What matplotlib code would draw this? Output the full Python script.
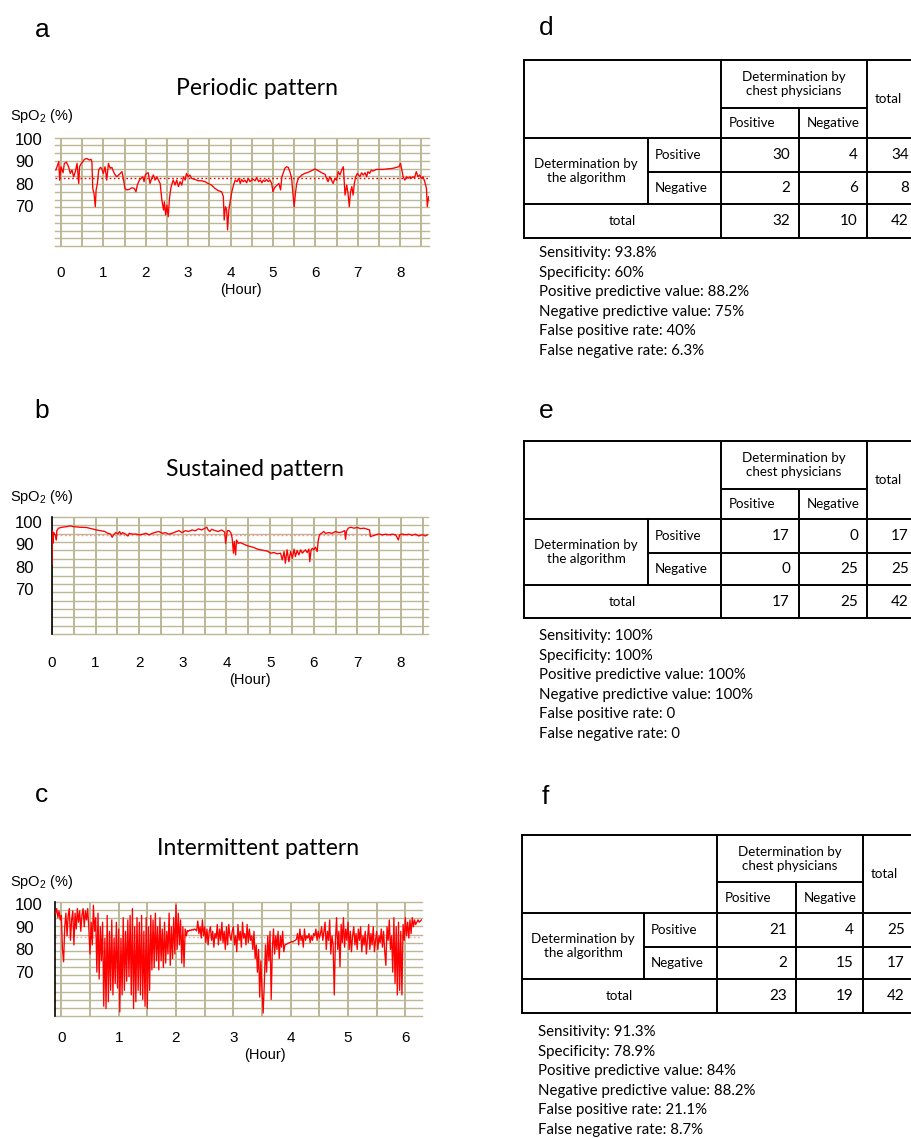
import numpy as np
import matplotlib.pyplot as plt

plt.rcParams['font.family'] = ['Liberation Sans', 'DejaVu Sans']
plt.rcParams['mathtext.fontset'] = 'custom'
plt.rcParams['mathtext.rm'] = 'Liberation Sans'

W, H = 912, 1138
BODY_FONT = ['Lato', 'DejaVu Sans']
GRID = '#bcb896'

# ---- panel a: periodic pattern (hour, SpO2 %) ----
trace_a = [
    (-0.12, 86.1), (-0.05, 89.9), (-0.03, 81.6), (0.00, 87.6), (0.05, 84.9), (0.08, 89.1),
    (0.13, 89.6), (0.18, 87.6), (0.22, 84.6), (0.26, 86.1), (0.30, 83.1), (0.34, 85.4),
    (0.38, 89.1), (0.42, 80.1), (0.44, 87.6), (0.48, 89.1), (0.52, 89.9), (0.55, 90.9),
    (0.61, 91.3), (0.67, 90.6), (0.71, 90.9), (0.73, 89.9), (0.75, 77.9), (0.78, 75.7),
    (0.81, 69.7), (0.83, 77.2), (0.86, 80.1), (0.89, 86.1), (0.93, 87.3), (0.96, 86.9),
    (1.00, 84.6), (1.04, 87.6), (1.08, 81.6), (1.12, 89.1), (1.16, 86.9), (1.20, 87.3),
    (1.24, 85.4), (1.28, 83.9), (1.32, 83.1), (1.36, 83.9), (1.40, 84.6), (1.44, 85.4),
    (1.47, 82.4), (1.51, 77.9), (1.55, 77.2), (1.62, 77.5), (1.67, 78.2), (1.73, 77.9),
    (1.77, 76.4), (1.80, 79.4), (1.85, 81.6), (1.89, 82.4), (1.93, 83.1), (1.96, 80.9),
    (1.99, 83.9), (2.02, 84.6), (2.06, 84.9), (2.10, 80.1), (2.14, 82.4), (2.18, 83.9),
    (2.22, 81.6), (2.26, 83.1), (2.30, 81.6), (2.34, 80.1), (2.38, 72.7), (2.42, 68.2),
    (2.44, 71.9), (2.47, 66.0), (2.50, 70.4), (2.53, 65.2), (2.56, 73.4), (2.59, 77.9),
    (2.62, 80.1), (2.65, 81.6), (2.69, 79.4), (2.73, 81.6), (2.77, 78.7), (2.81, 80.9),
    (2.85, 79.4), (2.89, 83.1), (2.93, 81.6), (2.96, 84.6), (3.00, 83.1), (3.04, 83.9),
    (3.08, 82.4), (3.16, 81.9), (3.24, 81.3), (3.32, 81.3), (3.40, 80.9), (3.47, 80.1),
    (3.55, 79.4), (3.63, 77.9), (3.71, 76.9), (3.79, 76.4), (3.83, 74.2), (3.85, 63.7),
    (3.88, 69.7), (3.91, 68.2), (3.93, 59.3), (3.96, 68.2), (3.99, 71.9), (4.03, 76.4),
    (4.07, 79.4), (4.11, 81.6), (4.15, 80.9), (4.19, 82.4), (4.23, 80.1), (4.26, 81.9),
    (4.30, 80.9), (4.34, 81.6), (4.38, 80.4), (4.42, 82.4), (4.46, 80.9), (4.50, 81.6),
    (4.54, 81.9), (4.58, 81.3), (4.62, 82.8), (4.66, 80.9), (4.70, 81.6), (4.74, 80.4),
    (4.77, 81.6), (4.81, 81.0), (4.85, 81.9), (4.89, 80.9), (4.93, 81.6), (4.97, 80.1),
    (5.00, 76.4), (5.03, 77.9), (5.06, 78.7), (5.10, 79.4), (5.14, 80.1), (5.18, 77.2),
    (5.21, 83.1), (5.24, 84.6), (5.28, 86.9), (5.32, 87.6), (5.36, 87.3), (5.40, 85.4),
    (5.44, 82.4), (5.46, 77.9), (5.50, 69.7), (5.53, 75.7), (5.56, 80.1), (5.60, 82.4),
    (5.64, 83.1), (5.68, 83.9), (5.75, 84.6), (5.83, 85.1), (5.91, 85.8), (5.99, 86.6),
    (6.07, 85.8), (6.15, 84.9), (6.23, 84.2), (6.26, 82.4), (6.30, 80.9), (6.34, 83.1),
    (6.38, 81.6), (6.42, 80.1), (6.46, 82.4), (6.50, 81.6), (6.54, 85.4), (6.58, 83.9),
    (6.62, 86.1), (6.66, 87.6), (6.68, 81.6), (6.70, 74.9), (6.74, 79.4), (6.77, 75.7),
    (6.80, 69.7), (6.83, 76.4), (6.86, 78.7), (6.89, 74.9), (6.92, 80.1), (6.95, 83.1),
    (6.99, 84.6), (7.05, 83.1), (7.09, 84.9), (7.13, 83.9), (7.17, 84.9), (7.21, 83.1),
    (7.24, 85.4), (7.28, 84.6), (7.32, 86.1), (7.36, 85.7), (7.44, 86.4), (7.52, 86.4),
    (7.60, 86.4), (7.68, 86.6), (7.75, 86.7), (7.83, 86.9), (7.91, 87.3), (7.97, 87.6),
    (8.01, 89.1), (8.04, 86.1), (8.07, 83.1), (8.11, 81.6), (8.15, 83.1), (8.19, 82.4),
    (8.23, 83.1), (8.26, 82.4), (8.30, 83.1), (8.34, 82.7), (8.38, 85.4), (8.42, 83.1),
    (8.46, 83.9), (8.50, 82.4), (8.54, 83.1), (8.58, 80.9), (8.62, 77.9), (8.64, 69.7),
    (8.67, 74.2), (8.70, 71.9),
]
ref_a = 82.4

# ---- panel b: sustained pattern ----
trace_b = [
    (0.00, 81.0), (0.01, 96.0), (0.02, 90.4), (0.04, 95.2), (0.08, 94.0), (0.10, 91.9),
    (0.11, 96.1), (0.15, 97.2), (0.23, 97.6), (0.34, 97.9), (0.42, 98.2), (0.49, 97.9),
    (0.64, 97.6), (0.79, 97.5), (0.91, 96.9), (1.02, 96.4), (1.13, 96.0), (1.21, 95.7),
    (1.28, 94.9), (1.34, 94.6), (1.38, 93.1), (1.41, 94.2), (1.46, 95.2), (1.51, 94.6),
    (1.55, 95.7), (1.58, 94.5), (1.62, 95.2), (1.68, 94.6), (1.74, 93.7), (1.77, 94.9),
    (1.85, 94.5), (1.92, 94.6), (2.00, 94.2), (2.08, 94.5), (2.15, 94.9), (2.23, 94.2),
    (2.30, 94.9), (2.38, 95.4), (2.45, 95.7), (2.53, 94.9), (2.60, 95.2), (2.68, 94.5),
    (2.75, 94.9), (2.83, 95.5), (2.91, 96.1), (2.98, 95.2), (3.06, 96.1), (3.13, 95.7),
    (3.21, 96.4), (3.28, 96.0), (3.36, 96.9), (3.43, 96.4), (3.51, 97.2), (3.55, 97.6),
    (3.58, 96.4), (3.62, 95.7), (3.66, 96.7), (3.74, 96.1), (3.81, 95.7), (3.89, 96.4),
    (3.96, 95.4), (3.98, 90.4), (4.02, 96.1), (4.06, 96.1), (4.10, 95.2), (4.13, 92.7),
    (4.16, 86.0), (4.18, 91.2), (4.21, 85.2), (4.23, 91.9), (4.27, 90.4), (4.32, 90.7),
    (4.40, 90.0), (4.48, 89.3), (4.55, 89.0), (4.63, 88.5), (4.71, 87.8), (4.78, 87.5),
    (4.86, 87.2), (4.94, 86.9), (5.01, 86.0), (5.09, 86.3), (5.16, 85.7), (5.24, 86.0),
    (5.28, 83.0), (5.32, 86.7), (5.35, 81.5), (5.39, 87.5), (5.43, 82.2), (5.47, 86.7),
    (5.51, 83.7), (5.55, 87.8), (5.58, 84.5), (5.62, 87.2), (5.66, 85.2), (5.70, 87.5),
    (5.74, 86.0), (5.77, 86.7), (5.81, 87.5), (5.85, 86.3), (5.89, 87.8), (5.91, 82.2),
    (5.94, 87.5), (5.97, 88.2), (6.00, 87.5), (6.04, 88.7), (6.08, 86.7), (6.10, 91.2),
    (6.13, 94.2), (6.18, 94.9), (6.23, 95.7), (6.27, 94.9), (6.35, 95.2), (6.42, 94.9),
    (6.50, 95.7), (6.58, 95.2), (6.65, 95.5), (6.71, 96.1), (6.73, 92.2), (6.75, 95.7),
    (6.79, 97.2), (6.85, 97.6), (6.92, 97.2), (7.00, 97.5), (7.07, 97.0), (7.15, 97.2),
    (7.23, 96.7), (7.28, 96.4), (7.30, 93.4), (7.34, 93.7), (7.42, 94.2), (7.49, 94.6),
    (7.57, 94.2), (7.65, 94.5), (7.72, 94.2), (7.80, 94.5), (7.88, 94.2), (7.94, 91.9),
    (7.97, 94.2), (8.03, 94.6), (8.10, 94.2), (8.18, 94.5), (8.26, 94.0), (8.33, 94.5),
    (8.41, 93.7), (8.49, 94.3), (8.56, 93.7), (8.60, 94.2),
]
ref_b = 94.0

# ---- panel c: intermittent pattern, one reading every 0.02 h from -0.10 h ----
c_start, c_step = -0.10, 0.02
spo2_c = [
    96, 98, 94, 97, 93,
    95, 80, 74.6, 90, 96, 86, 95, 98, 84, 93,
    97, 82, 96, 89, 98, 92, 97, 88, 95, 98,
    90, 97, 93, 98, 89, 78, 92, 82, 99.5, 88,
    94, 70, 96, 67, 90, 75, 92, 55, 85, 54,
    95, 57, 88, 62, 93, 60, 85, 65, 92, 63,
    89, 52.5, 85, 60, 94, 62, 88, 66, 93, 68,
    95, 60, 98, 54, 90, 57, 94, 62, 92, 60,
    95, 58, 88, 55, 94, 54, 90, 62, 95, 71,
    93, 72, 96, 75, 90, 71, 94, 75, 89, 72,
    92, 74, 88, 78, 96, 73, 90, 76, 94, 78,
    99.6, 80, 96, 82, 93, 74, 90, 72.4, 89, 86,
    88.4, 88.0, 88.6, 88.3, 88.8, 88.5, 89.0, 88.7, 88.2, 92.5,
    87, 90, 85, 93, 86, 90, 83, 89, 82, 88,
    90, 84, 88, 81, 87, 85, 91, 82, 89, 84,
    92, 83, 88, 80, 90, 82, 91, 86, 84, 88,
    90, 82, 86, 79, 91, 84, 88, 81, 92, 85,
    87, 82, 91, 83, 89, 84, 86, 80, 88, 76,
    82, 70, 80, 59, 75, 62, 52, 65, 82, 70,
    86, 75, 88, 58, 80, 89, 78, 86, 80, 88,
    76, 86, 81, 88, 79, 82, 82.2, 82.5, 82.8, 83.0,
    83.2, 83.5, 83.3, 83.8, 84.0, 84.5, 87, 82, 89, 84,
    86, 81, 89, 84, 86, 85, 87, 83, 86, 84,
    87, 86, 89, 84, 88, 85, 87, 90, 84, 88,
    92, 80, 88, 84, 93, 78, 86, 82, 60, 84,
    94, 80, 88, 72.4, 91, 83, 94, 81, 89, 84,
    92, 80, 88, 79, 86, 90, 82, 87, 80, 89,
    84, 90, 79, 86, 82, 88, 78, 85, 91, 80,
    87, 82, 90, 79, 84, 88, 80, 86, 83, 89,
    81, 88, 79, 73, 90, 84, 93, 80, 86, 70,
    94, 65, 90, 60, 92, 62, 88, 60, 91, 84,
    94, 86, 92, 85, 93, 87, 94, 90, 93, 91,
    92, 93, 92, 92.5, 93,
]
ref_c = 85.6

# ---- tables d, e, f ----
col_header = 'Determination by\nchest physicians'
row_header = 'Determination by\nthe algorithm'
counts_d = [[30, 4, 34], [2, 6, 8], [32, 10, 42]]
counts_e = [[17, 0, 17], [0, 25, 25], [17, 25, 42]]
counts_f = [[21, 4, 25], [2, 15, 17], [23, 19, 42]]
stats_d = ['Sensitivity: 93.8%', 'Specificity: 60%', 'Positive predictive value: 88.2%',
           'Negative predictive value: 75%', 'False positive rate: 40%', 'False negative rate: 6.3%']
stats_e = ['Sensitivity: 100%', 'Specificity: 100%', 'Positive predictive value: 100%',
           'Negative predictive value: 100%', 'False positive rate: 0', 'False negative rate: 0']
stats_f = ['Sensitivity: 91.3%', 'Specificity: 78.9%', 'Positive predictive value: 84%',
           'Negative predictive value: 88.2%', 'False positive rate: 21.1%', 'False negative rate: 8.7%']

fig = plt.figure(figsize=(W / 100, H / 100), dpi=100)
canvas = fig.add_axes([0, 0, 1, 1])
canvas.set_xlim(0, W)
canvas.set_ylim(H, 0)
canvas.axis('off')


def px_axes(left, top, right, bottom):
    return fig.add_axes([left / W, 1 - bottom / H, (right - left) / W, (bottom - top) / H])


def draw_trace(box, hours, spo2, xlim, ylim, ref, ref_color, n_hours, xpad, spines):
    ax = px_axes(*box)
    ax.set_xlim(*xlim)
    ax.set_ylim(*ylim)
    for h in np.arange(0, xlim[1], 0.5):
        ax.axvline(h, color=GRID, lw=1.4, zorder=1)
    for y in np.linspace(ylim[0], ylim[1], 15):
        ax.axhline(y, color=GRID, lw=1.0, zorder=1, clip_on=False)
    ax.axhline(ref, color=ref_color, lw=1.0, ls=(0, (1.2, 1.8)), zorder=2)
    ax.plot(hours, spo2, color='red', lw=0.95, zorder=3)
    for s in ax.spines.values():
        s.set_visible(False)
    for s in spines:
        ax.spines[s].set_visible(True)
        ax.spines[s].set_color('black')
        ax.spines[s].set_linewidth(1.2)
    ax.set_xticks(range(0, n_hours + 1))
    ax.set_yticks([100, 90, 80, 70])
    ax.tick_params(length=0, labelsize=11)
    ax.tick_params(axis='x', pad=xpad * 0.72)
    ax.tick_params(axis='y', pad=(box[0] - 15) * 0.72, labelsize=12)
    for t in ax.get_yticklabels():
        t.set_horizontalalignment('left')
    return ax


ha, va = zip(*trace_a)
draw_trace((55, 137.7, 429, 246), ha, va, (-0.14, 8.68), (52.1, 100.6), ref_a, 'red', 8, 20, [])
hb, vb = zip(*trace_b)
draw_trace((52, 517, 428, 634), hb, vb, (0, 8.62), (49.8, 102.2), ref_b, '#ff9090', 8, 22, ['left'])
hc = c_start + c_step * np.arange(len(spo2_c))
draw_trace((55, 902, 422, 1016), hc, spo2_c, (-0.11, 6.29), (50.7, 100.9), ref_c, '#ffa0a0', 6, 15, ['left'])

for y in (116, 497, 882):
    canvas.text(10, y, r'SpO$_\mathregular{2}$ (%)', fontsize=10.5, va='center', ha='left')
for x, y in ((241, 290), (250, 680), (265, 1055)):
    canvas.text(x, y, '(Hour)', fontsize=10.5, va='center', ha='center')

for title, x, y in (('Periodic pattern', 257, 88), ('Sustained pattern', 255, 469),
                    ('Intermittent pattern', 258, 848)):
    canvas.text(x, y, title, fontsize=16.5, family=BODY_FONT, ha='center', va='center')

for letter, x, y in (('a', 42, 30), ('b', 42, 411), ('c', 42, 795),
                     ('d', 546, 28), ('e', 546, 411), ('f', 545, 797)):
    canvas.text(x, y, letter, fontsize=19, ha='center', va='center')


def draw_table(xs, ys, counts, stats, stats_x, stats_y):
    x0, x1, x2, x3, x4, x5 = xs
    y0, y1, y2, y3, y4, y5 = ys
    kw = dict(color='black', lw=1.4, solid_capstyle='projecting')
    for y, xa, xb in ((y0, x0, x5), (y1, x2, x4), (y2, x0, x5), (y3, x1, x5), (y4, x0, x5), (y5, x0, x5)):
        canvas.plot([xa, xb], [y, y], **kw)
    for x, ya, yb in ((x0, y0, y5), (x1, y2, y4), (x2, y0, y5), (x3, y1, y5), (x4, y0, y5), (x5, y0, y5)):
        canvas.plot([x, x], [ya, yb], **kw)
    tk = dict(family=BODY_FONT, fontsize=9.6)
    canvas.text((x2 + x4) / 2, (y0 + y1) / 2, col_header, ha='center', va='center', linespacing=1.2, **tk)
    canvas.text((x4 + x5) / 2 - 4, (y0 + y2) / 2, 'total', ha='center', va='center', **tk)
    canvas.text(x2 + 8, (y1 + y2) / 2, 'Positive', ha='left', va='center', **tk)
    canvas.text(x3 + 8, (y1 + y2) / 2, 'Negative', ha='left', va='center', **tk)
    canvas.text((x0 + x1) / 2, (y2 + y4) / 2, row_header, ha='center', va='center', linespacing=1.2, **tk)
    canvas.text(x1 + 7, (y2 + y3) / 2, 'Positive', ha='left', va='center', **tk)
    canvas.text(x1 + 7, (y3 + y4) / 2, 'Negative', ha='left', va='center', **tk)
    canvas.text((x0 + x2) / 2, (y4 + y5) / 2, 'total', ha='center', va='center', **tk)
    row_mid = [(y2 + y3) / 2, (y3 + y4) / 2, (y4 + y5) / 2]
    for r, row in enumerate(counts):
        for right, val in zip((x3, x4, x5), row):
            canvas.text(right - 9, row_mid[r], str(val), ha='right', va='center',
                        family=BODY_FONT, fontsize=11)
    for i, line in enumerate(stats):
        canvas.text(stats_x, stats_y + 19.6 * i, line, ha='left', va='center',
                    family=BODY_FONT, fontsize=10.8)


draw_table((524, 648, 721, 799, 867, 918), (60, 108, 138, 172, 204, 238), counts_d, stats_d, 539, 253)
draw_table((524, 648, 721, 799, 867, 918), (441, 489, 519, 553, 585, 618), counts_e, stats_e, 539, 636)
draw_table((522, 644, 717, 796, 863, 914), (835, 882, 913, 947, 979, 1013), counts_f, stats_f, 538, 1032)

fig.savefig('out.png', dpi=100)
